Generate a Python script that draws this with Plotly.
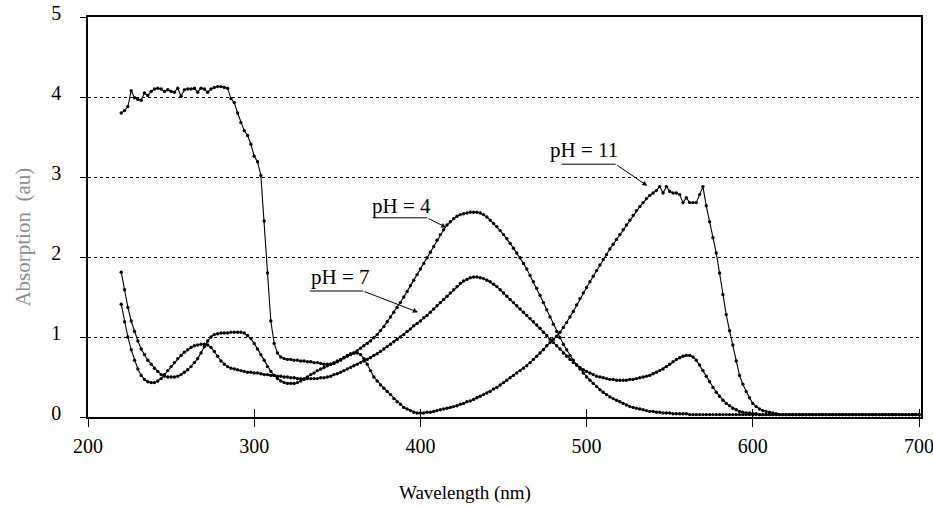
import plotly.graph_objects as go

# Wavelength grid (nm), 2 nm sampling
wavelength = list(range(220, 702, 2))

# Absorption values (au)
ph4 = [
    1.81, 1.59, 1.37, 1.20, 1.07, 0.95, 0.85, 0.78, 0.71, 0.66,   # 220-238
    0.61, 0.57, 0.53, 0.51, 0.50, 0.50, 0.50, 0.51, 0.53, 0.56,   # 240-258
    0.59, 0.63, 0.68, 0.73, 0.80, 0.88, 0.95, 1.00, 1.03, 1.04,   # 260-278
    1.05, 1.05, 1.05, 1.06, 1.06, 1.06, 1.06, 1.05, 1.02, 0.98,   # 280-298
    0.92, 0.85, 0.78, 0.71, 0.63, 0.57, 0.52, 0.48, 0.45, 0.43,   # 300-318
    0.42, 0.42, 0.42, 0.43, 0.45, 0.47, 0.50, 0.53, 0.55, 0.58,   # 320-338
    0.60, 0.62, 0.64, 0.66, 0.68, 0.70, 0.72, 0.74, 0.76, 0.78,   # 340-358
    0.80, 0.83, 0.86, 0.89, 0.92, 0.95, 0.99, 1.03, 1.08, 1.13,   # 360-378
    1.19, 1.25, 1.31, 1.37, 1.43, 1.50, 1.57, 1.64, 1.71, 1.78,   # 380-398
    1.85, 1.92, 1.99, 2.06, 2.13, 2.21, 2.28, 2.34, 2.40, 2.44,   # 400-418
    2.48, 2.51, 2.53, 2.54, 2.55, 2.56, 2.56, 2.56, 2.55, 2.53,   # 420-438
    2.50, 2.46, 2.42, 2.38, 2.33, 2.28, 2.23, 2.17, 2.11, 2.05,   # 440-458
    1.99, 1.92, 1.85, 1.77, 1.69, 1.61, 1.52, 1.43, 1.34, 1.25,   # 460-478
    1.16, 1.07, 0.99, 0.91, 0.84, 0.77, 0.71, 0.65, 0.60, 0.55,   # 480-498
    0.50, 0.46, 0.42, 0.38, 0.34, 0.31, 0.28, 0.25, 0.23, 0.21,   # 500-518
    0.19, 0.17, 0.15, 0.13, 0.12, 0.11, 0.10, 0.09, 0.08, 0.07,   # 520-538
    0.07, 0.06, 0.06, 0.05, 0.05, 0.05, 0.04, 0.04, 0.04, 0.04,   # 540-558
    0.04, 0.03, 0.03, 0.03, 0.03, 0.03, 0.03, 0.03, 0.03, 0.03,   # 560-578
    0.03, 0.03, 0.03, 0.03, 0.03, 0.03, 0.03, 0.03, 0.03, 0.03,   # 580-598
    0.03, 0.03, 0.03, 0.03, 0.03, 0.03, 0.03, 0.03, 0.03, 0.03,   # 600-618
    0.03, 0.03, 0.03, 0.03, 0.03, 0.03, 0.03, 0.03, 0.03, 0.03,   # 620-638
    0.03, 0.03, 0.03, 0.03, 0.03, 0.03, 0.03, 0.03, 0.03, 0.03,   # 640-658
    0.03, 0.03, 0.03, 0.03, 0.03, 0.03, 0.03, 0.03, 0.03, 0.03,   # 660-678
    0.03, 0.03, 0.03, 0.03, 0.03, 0.03, 0.03, 0.03, 0.03, 0.03,   # 680-698
    0.03,                                                         # 700
]

ph7 = [
    1.41, 1.19, 1.00, 0.84, 0.71, 0.60, 0.52, 0.47, 0.44, 0.43,   # 220-238
    0.43, 0.45, 0.48, 0.53, 0.58, 0.63, 0.68, 0.73, 0.77, 0.81,   # 240-258
    0.84, 0.87, 0.89, 0.90, 0.91, 0.91, 0.90, 0.87, 0.82, 0.76,   # 260-278
    0.70, 0.66, 0.63, 0.61, 0.60, 0.59, 0.58, 0.57, 0.56, 0.56,   # 280-298
    0.55, 0.55, 0.54, 0.53, 0.53, 0.52, 0.52, 0.51, 0.51, 0.50,   # 300-318
    0.50, 0.49, 0.49, 0.48, 0.48, 0.48, 0.48, 0.48, 0.48, 0.48,   # 320-338
    0.49, 0.49, 0.50, 0.51, 0.53, 0.54, 0.56, 0.58, 0.60, 0.62,   # 340-358
    0.64, 0.66, 0.68, 0.70, 0.72, 0.74, 0.77, 0.79, 0.82, 0.85,   # 360-378
    0.88, 0.91, 0.94, 0.97, 1.00, 1.03, 1.07, 1.10, 1.14, 1.17,   # 380-398
    1.20, 1.24, 1.27, 1.31, 1.35, 1.39, 1.43, 1.47, 1.51, 1.55,   # 400-418
    1.59, 1.63, 1.67, 1.70, 1.72, 1.74, 1.75, 1.75, 1.74, 1.73,   # 420-438
    1.71, 1.69, 1.66, 1.63, 1.59, 1.55, 1.51, 1.47, 1.43, 1.39,   # 440-458
    1.35, 1.31, 1.27, 1.23, 1.19, 1.15, 1.11, 1.06, 1.02, 0.97,   # 460-478
    0.93, 0.89, 0.85, 0.80, 0.76, 0.72, 0.68, 0.65, 0.62, 0.59,   # 480-498
    0.57, 0.55, 0.53, 0.51, 0.50, 0.49, 0.48, 0.47, 0.47, 0.46,   # 500-518
    0.46, 0.46, 0.46, 0.47, 0.47, 0.48, 0.49, 0.50, 0.51, 0.52,   # 520-538
    0.54, 0.56, 0.58, 0.60, 0.63, 0.66, 0.69, 0.72, 0.74, 0.76,   # 540-558
    0.77, 0.77, 0.75, 0.71, 0.65, 0.58, 0.51, 0.44, 0.37, 0.31,   # 560-578
    0.26, 0.21, 0.17, 0.14, 0.11, 0.09, 0.07, 0.06, 0.05, 0.05,   # 580-598
    0.04, 0.04, 0.03, 0.03, 0.03, 0.03, 0.03, 0.03, 0.03, 0.03,   # 600-618
    0.03, 0.03, 0.03, 0.03, 0.03, 0.03, 0.03, 0.03, 0.03, 0.03,   # 620-638
    0.03, 0.03, 0.03, 0.03, 0.03, 0.03, 0.03, 0.03, 0.03, 0.03,   # 640-658
    0.03, 0.03, 0.03, 0.03, 0.03, 0.03, 0.03, 0.03, 0.03, 0.03,   # 660-678
    0.03, 0.03, 0.03, 0.03, 0.03, 0.03, 0.03, 0.03, 0.03, 0.03,   # 680-698
    0.03,                                                         # 700
]

ph11 = [
    3.80, 3.83, 3.88, 4.08, 3.99, 3.97, 3.96, 4.05, 4.02, 4.07,   # 220-238
    4.10, 4.11, 4.10, 4.07, 4.09, 4.07, 4.06, 4.11, 4.01, 4.09,   # 240-258
    4.10, 4.10, 4.11, 4.06, 4.11, 4.10, 4.06, 4.10, 4.12, 4.13,   # 260-278
    4.13, 4.12, 4.11, 3.98, 3.93, 3.80, 3.68, 3.58, 3.52, 3.41,   # 280-298
    3.26, 3.19, 3.02, 2.45, 1.80, 1.20, 0.92, 0.80, 0.75, 0.73,   # 300-318
    0.72, 0.72, 0.71, 0.71, 0.70, 0.70, 0.69, 0.69, 0.68, 0.68,   # 320-338
    0.67, 0.66, 0.66, 0.66, 0.67, 0.69, 0.71, 0.74, 0.77, 0.79,   # 340-358
    0.80, 0.80, 0.78, 0.73, 0.66, 0.58, 0.50, 0.45, 0.40, 0.36,   # 360-378
    0.32, 0.28, 0.23, 0.19, 0.16, 0.12, 0.10, 0.08, 0.06, 0.05,   # 380-398
    0.05, 0.05, 0.06, 0.06, 0.07, 0.08, 0.09, 0.10, 0.11, 0.12,   # 400-418
    0.13, 0.14, 0.16, 0.17, 0.19, 0.20, 0.22, 0.24, 0.26, 0.28,   # 420-438
    0.30, 0.32, 0.35, 0.37, 0.40, 0.43, 0.46, 0.49, 0.52, 0.55,   # 440-458
    0.58, 0.61, 0.64, 0.68, 0.72, 0.76, 0.80, 0.84, 0.89, 0.93,   # 460-478
    0.97, 1.01, 1.06, 1.12, 1.18, 1.25, 1.32, 1.40, 1.48, 1.55,   # 480-498
    1.62, 1.69, 1.76, 1.83, 1.90, 1.97, 2.03, 2.10, 2.16, 2.22,   # 500-518
    2.28, 2.34, 2.40, 2.46, 2.52, 2.58, 2.63, 2.68, 2.73, 2.77,   # 520-538
    2.80, 2.83, 2.88, 2.80, 2.88, 2.82, 2.80, 2.80, 2.78, 2.68,   # 540-558
    2.74, 2.68, 2.68, 2.68, 2.78, 2.88, 2.64, 2.44, 2.24, 2.05,   # 560-578
    1.80, 1.53, 1.28, 1.08, 0.90, 0.70, 0.52, 0.41, 0.32, 0.24,   # 580-598
    0.17, 0.13, 0.10, 0.08, 0.07, 0.06, 0.05, 0.04, 0.03, 0.03,   # 600-618
    0.03, 0.03, 0.03, 0.03, 0.03, 0.03, 0.03, 0.03, 0.03, 0.03,   # 620-638
    0.03, 0.03, 0.03, 0.03, 0.03, 0.03, 0.03, 0.03, 0.03, 0.03,   # 640-658
    0.03, 0.03, 0.03, 0.03, 0.03, 0.03, 0.03, 0.03, 0.03, 0.03,   # 660-678
    0.03, 0.03, 0.03, 0.03, 0.03, 0.03, 0.03, 0.03, 0.03, 0.03,   # 680-698
    0.03,                                                         # 700
]

series = {"pH = 4": ph4, "pH = 7": ph7, "pH = 11": ph11}
x_ticks = [200, 300, 400, 500, 600, 700]
y_ticks = [0, 1, 2, 3, 4, 5]

FONT = "Liberation Serif, Times New Roman, serif"

fig = go.Figure()
for name, ys in series.items():
    assert len(ys) == len(wavelength), (name, len(ys))
    fig.add_trace(go.Scatter(
        x=wavelength, y=ys, name=name, mode="lines+markers",
        line=dict(color="black", width=1.1),
        marker=dict(color="black", size=3.4),
        showlegend=False, hoverinfo="skip",
    ))

# empty trace on an overlay axis to draw the inner half of the crossing x ticks
fig.add_trace(go.Scatter(x=[], y=[], xaxis="x2", yaxis="y", showlegend=False))

# labels with underline + arrow (positions in data units)
labels = [
    # text, text_x, text_y, line_x0, line_x1, line_y, tip_x, tip_y
    ("pH = 7", 352, 1.75, 333.5, 365.5, 1.575, 398.5, 1.31),
    ("pH = 4", 388.5, 2.64, 371.5, 404, 2.49, 415.5, 2.37),
    ("pH = 11", 498.5, 3.34, 485, 517.5, 3.16, 536.5, 2.89),
]
for text, tx, ty, lx0, lx1, ly, ax_, ay_ in labels:
    fig.add_annotation(x=tx, y=ty, text=text, showarrow=False,
                       font=dict(family=FONT, size=21, color="black"),
                       xanchor="center", yanchor="middle")
    fig.add_shape(type="line", x0=lx0, x1=lx1, y0=ly, y1=ly,
                  xref="x", yref="y", line=dict(color="black", width=1))
    fig.add_annotation(x=ax_, y=ay_, ax=lx1, ay=ly, axref="x", ayref="y",
                       xref="x", yref="y", text="", showarrow=True,
                       arrowhead=2, arrowsize=1, arrowwidth=1,
                       arrowcolor="black", standoff=0, startstandoff=0)

# axis titles placed as text (they sit off-centre in the original)
fig.add_annotation(x=-0.0785, xref="paper", y=2.25, yref="y",
                   text="Absorption\u00a0\u00a0(au)", textangle=-90, showarrow=False,
                   font=dict(family=FONT, size=21, color="#8c8c8c"),
                   xanchor="center", yanchor="middle")
fig.add_annotation(x=0.4526, xref="paper", y=-0.19, yref="paper",
                   text="Wavelength (nm)", showarrow=False,
                   font=dict(family=FONT, size=19, color="black"),
                   xanchor="center", yanchor="middle")

fig.update_layout(
    width=933, height=506,
    margin=dict(l=88, r=12, t=17, b=89),
    paper_bgcolor="white", plot_bgcolor="white",
    font=dict(family=FONT, color="black"),
    xaxis=dict(
        range=[200, 701.2], tickvals=x_ticks, ticktext=[str(v) for v in x_ticks],
        showline=True, linecolor="black", linewidth=1.5, mirror=True,
        ticks="outside", ticklen=8, tickwidth=1, tickcolor="black",
        showgrid=False, zeroline=False, automargin=False,
        ticklabeloverflow="allow",
        tickfont=dict(family=FONT, size=20, color="black"),
        ticklabelstandoff=2,
    ),
    xaxis2=dict(
        overlaying="x", matches="x", anchor="y", side="bottom",
        range=[200, 701.2], tickvals=x_ticks, showticklabels=False,
        ticks="inside", ticklen=8, tickwidth=1, tickcolor="black",
        showline=False, showgrid=False, zeroline=False, automargin=False,
    ),
    yaxis=dict(
        range=[0, 5], tickvals=y_ticks, ticktext=[str(v) for v in y_ticks],
        showline=True, linecolor="black", linewidth=1.5, mirror=True,
        ticks="outside", ticklen=6, tickwidth=1, tickcolor="black",
        showgrid=True, gridcolor="black", gridwidth=1, griddash="3px,3px",
        zeroline=False, automargin=False, ticklabeloverflow="allow",
        tickfont=dict(family=FONT, size=20, color="black"),
        ticklabelstandoff=15, ticklabelshift=-4,
    ),
)

fig.write_html("out.html")
